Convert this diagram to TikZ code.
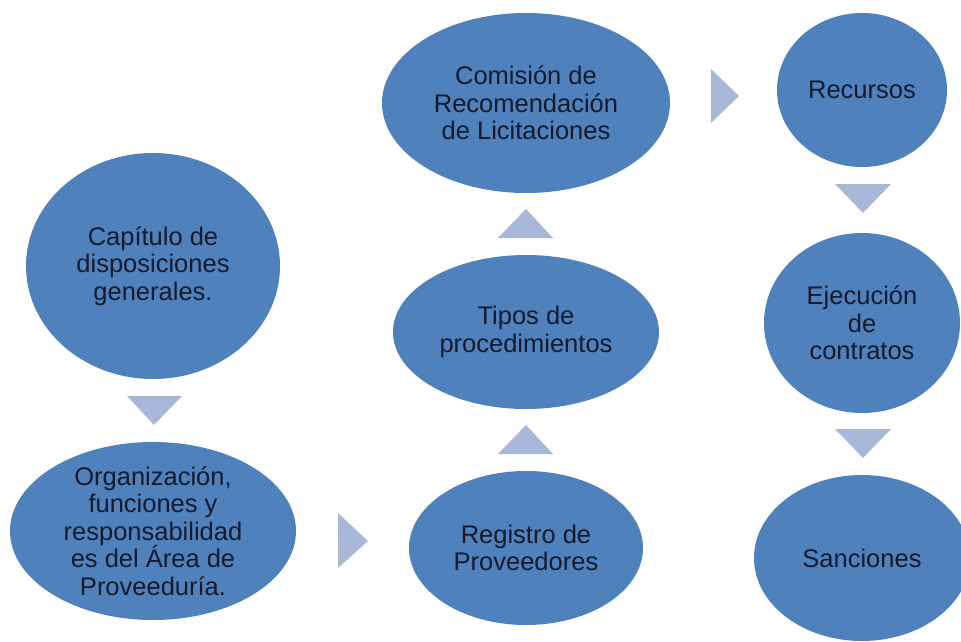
\documentclass[tikz,border=0pt]{standalone}
\usepackage{fontspec}
\setmainfont{Liberation Sans}
\usetikzlibrary{shapes.geometric}
\definecolor{ellblue}{HTML}{4F81BD}
\definecolor{triblue}{HTML}{A9B8D8}
\definecolor{txtdark}{HTML}{141A2C}
\begin{document}
\begin{tikzpicture}[x=1pt,y=-1pt,
  ell/.style={ellipse,fill=ellblue,draw=none,inner sep=0pt},
  txt/.style={align=center,text=txtdark,inner sep=0pt,font=\fontsize{25.5}{27.5}\selectfont},
  tri/.style={fill=triblue,draw=none}]
\useasboundingbox (0,0) rectangle (961,642);
\fill[white] (0,0) rectangle (961,642);
% ellipses
\node[ell,minimum width=254pt,minimum height=226pt] (cap) at (153,266) {};
\node[ell,minimum width=286pt,minimum height=178pt] (org) at (153,531) {};
\node[ell,minimum width=234pt,minimum height=154pt] (reg) at (526,548) {};
\node[ell,minimum width=266pt,minimum height=154pt] (tip) at (526,332) {};
\node[ell,minimum width=288pt,minimum height=180pt] (com) at (526,103) {};
\node[ell,minimum width=170pt,minimum height=154pt] (rec) at (862,90) {};
\node[ell,minimum width=196pt,minimum height=180pt] (eje) at (862,323) {};
\node[ell,minimum width=216pt,minimum height=166pt] (san) at (862,558) {};
% texts
\node[txt] (capt) at (cap) {Capítulo de\\disposiciones\\generales.};
\node[txt] (orgt) at (org) {Organización,\\funciones y\\responsabilidad\\es del Área de\\Proveeduría.};
\node[txt] (regt) at (reg) {Registro de\\Proveedores};
\node[txt] (tipt) at (tip) {Tipos de\\procedimientos};
\node[txt] (comt) at (com) {Comisión de\\Recomendación\\de Licitaciones};
\node[txt] (rect) at (rec) {Recursos};
\node[txt] (ejet) at (eje) {Ejecución\\de\\contratos};
\node[txt] (sant) at (san) {Sanciones};
% triangles (flow arrows)
\fill[tri] (127,396) -- (182,396) -- (154,425) -- cycle;
\fill[tri] (338,513) -- (338,568) -- (368,541) -- cycle;
\fill[tri] (498,454) -- (553,454) -- (526,425) -- cycle;
\fill[tri] (498,238) -- (553,238) -- (526,209) -- cycle;
\fill[tri] (711,69) -- (711,123) -- (739,96) -- cycle;
\fill[tri] (835,184) -- (891,184) -- (863,213) -- cycle;
\fill[tri] (835,429) -- (891,429) -- (863,458) -- cycle;
\end{tikzpicture}
\end{document}
